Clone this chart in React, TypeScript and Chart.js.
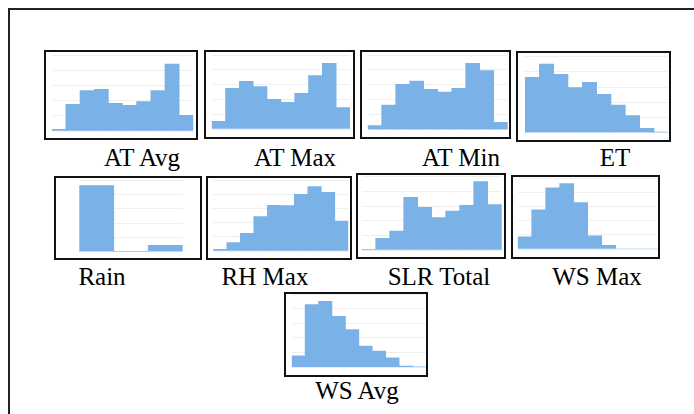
import React, { useEffect, useRef } from "react";
import { Chart, registerables } from "chart.js";
Chart.register(...registerables);

// ---- data (bar heights, relative units) ----
const atAvg = [5, 80, 121, 125, 83, 77, 88, 121, 201, 47];
const atMax = [23, 122, 143, 127, 89, 80, 107, 160, 197, 64];
const atMin = [12, 74, 136, 146, 121, 113, 124, 199, 177, 22];
const et = [166, 206, 175, 135, 151, 115, 83, 51, 13, 2];
const rain = [198, 0, 19];
const rhMax = [5, 25, 53, 103, 137, 136, 170, 193, 176, 90];
const slrTotal = [2, 35, 57, 158, 128, 97, 117, 134, 205, 136];
const wsMax = [37, 120, 187, 200, 142, 40, 11, 0, 0, 0];
const wsAvg = [35, 190, 200, 154, 114, 64, 49, 29, 4, 1];

const panelNames = ["AT Avg", "AT Max", "AT Min", "ET", "Rain", "RH Max", "SLR Total", "WS Max", "WS Avg"];
const panelData = [atAvg, atMax, atMin, et, rain, rhMax, slrTotal, wsMax, wsAvg];
const panelYMax = [228, 222, 224, 228, 215, 213, 220, 217, 222];

// layout: box [x0, x1, y0, y1], area [x0, x1, y0, y1], label [cx, cy]
const boxes = [
  [44, 198, 50, 140], [204, 355, 50, 139], [360, 511, 50, 139], [516, 671, 51, 142],
  [54, 202, 176, 260], [206, 352, 176, 260], [356, 506, 173, 259], [511, 660, 175, 259],
  [284, 428, 292, 377],
];
const areas = [
  [51.7, 193.3, 55, 131], [211.7, 350, 55, 129], [367.7, 507.7, 55, 129.7], [525, 668.3, 56.7, 132.7],
  [79.3, 182.7, 180, 251.7], [213.3, 348.3, 180, 251], [361.7, 501.7, 176.7, 250], [517.7, 657.7, 178, 249],
  [291.7, 426.7, 293.3, 367.3],
];
const labelPos = [
  [142, 158], [295, 158], [461, 158], [615, 158],
  [102, 277], [265, 277], [439, 277], [597, 277],
  [357, 391],
];

const BW = 2;

function Panel({ idx }: { idx: number }) {
  const ref = useRef<HTMLCanvasElement | null>(null);
  const [bx0, bx1, by0, by1] = boxes[idx];
  const [ax0, ax1, ay0, ay1] = areas[idx];
  const cw = bx1 - bx0 - 2 * BW;
  const ch = by1 - by0 - 2 * BW;
  const cx = bx0 + BW;
  const cy = by0 + BW;
  useEffect(() => {
    if (!ref.current) return;
    const data = panelData[idx];
    const ymax = panelYMax[idx];
    const chart = new Chart(ref.current, {
      type: "bar",
      data: {
        labels: data.map((_, i) => String(i)),
        datasets: [
          {
            data,
            backgroundColor: "#7ab2e8",
            borderWidth: 0,
            categoryPercentage: 1,
            barPercentage: 1,
          },
        ],
      },
      options: {
        animation: false,
        responsive: false,
        maintainAspectRatio: false,
        layout: {
          padding: {
            left: ax0 - cx,
            right: cx + cw - ax1,
            top: ay0 - cy,
            bottom: cy + ch - ay1,
          },
        },
        plugins: { legend: { display: false }, tooltip: { enabled: false } },
        scales: {
          x: { display: false },
          y: {
            min: 0,
            max: ymax,
            ticks: { display: false, stepSize: ymax / 5 },
            border: { display: false },
            grid: { color: "#efefef", drawTicks: false, lineWidth: 1 },
          },
        },
      },
    });
    return () => chart.destroy();
  }, [idx]);
  return (
    <>
      <div
        style={{
          position: "absolute",
          left: bx0,
          top: by0,
          width: bx1 - bx0 - 2 * BW,
          height: by1 - by0 - 2 * BW,
          border: `${BW}px solid #111`,
          background: "#fff",
        }}
      />
      <canvas
        ref={ref}
        width={cw}
        height={ch}
        style={{ position: "absolute", left: cx, top: cy, width: cw, height: ch }}
      />
      <div
        style={{
          position: "absolute",
          left: labelPos[idx][0] - 100,
          top: labelPos[idx][1] - 14,
          width: 200,
          height: 28,
          lineHeight: "28px",
          textAlign: "center",
          fontFamily: "'Liberation Serif', 'Times New Roman', serif",
          fontSize: 25,
          color: "#000",
          whiteSpace: "nowrap",
        }}
      >
        {panelNames[idx]}
      </div>
    </>
  );
}

export default function App() {
  return (
    <div
      style={{
        position: "fixed",
        left: 0,
        top: 0,
        width: 694,
        height: 414,
        background: "#fff",
        overflow: "hidden",
      }}
    >
      <div
        style={{
          position: "absolute",
          left: 8,
          top: 8,
          width: 720,
          height: 440,
          border: "2px solid #222",
        }}
      />
      {panelNames.map((_, i) => (
        <Panel key={i} idx={i} />
      ))}
    </div>
  );
}
